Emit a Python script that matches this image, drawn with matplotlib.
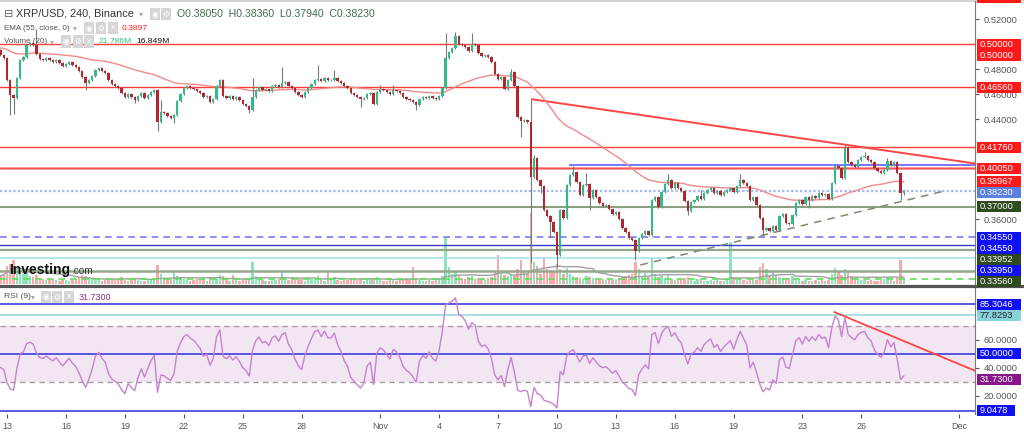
import numpy as np
import pandas as pd
import matplotlib
matplotlib.use('Agg')
import matplotlib.pyplot as plt
from matplotlib.lines import Line2D
from matplotlib.patches import Rectangle

plt.rcParams['font.family'] = ['Liberation Sans', 'DejaVu Sans']

# ---------------- data (XRP/USD 4h, Binance) ----------------
first_open = 0.4950
closes = [
    0.4912, 0.4888,
    0.4712, 0.4592, 0.4568, 0.4728, 0.4872, 0.4896,
    0.4992, 0.5008, 0.4992, 0.4920, 0.4880, 0.4872,
    0.4888, 0.4872, 0.4856, 0.4872, 0.4848, 0.4824,
    0.4840, 0.4856, 0.4832, 0.4816, 0.4784, 0.4736,
    0.4688, 0.4712, 0.4744, 0.4792, 0.4808, 0.4784,
    0.4768, 0.4712, 0.4680, 0.4664, 0.4648, 0.4608,
    0.4576, 0.4600, 0.4576, 0.4552, 0.4584, 0.4608,
    0.4568, 0.4592, 0.4616, 0.4632, 0.4376, 0.4456,
    0.4448, 0.4424, 0.4408, 0.4432, 0.4544, 0.4600,
    0.4648, 0.4664, 0.4648, 0.4640, 0.4624, 0.4608,
    0.4576, 0.4584, 0.4536, 0.4560, 0.4664, 0.4712,
    0.4584, 0.4568, 0.4584, 0.4560, 0.4576, 0.4552,
    0.4520, 0.4504, 0.4472, 0.4576, 0.4632, 0.4656,
    0.4632, 0.4640, 0.4624, 0.4664, 0.4672, 0.4656,
    0.4688, 0.4696, 0.4664, 0.4648, 0.4616, 0.4592,
    0.4576, 0.4616, 0.4648, 0.4680, 0.4712, 0.4720,
    0.4704, 0.4728, 0.4712, 0.4712, 0.4728, 0.4704,
    0.4688, 0.4664, 0.4648, 0.4608, 0.4592, 0.4576,
    0.4560, 0.4568, 0.4600, 0.4608, 0.4520, 0.4616,
    0.4640, 0.4632, 0.4616, 0.4600, 0.4632, 0.4624,
    0.4608, 0.4576, 0.4560, 0.4552, 0.4536, 0.4512,
    0.4560, 0.4576, 0.4568, 0.4584, 0.4568, 0.4560,
    0.4584, 0.4648, 0.4888, 0.4936, 0.4968, 0.5064,
    0.5000, 0.4992, 0.4976, 0.4944, 0.5000, 0.4992,
    0.4928, 0.4904, 0.4912, 0.4896, 0.4856, 0.4760,
    0.4720, 0.4736, 0.4640, 0.4712, 0.4776, 0.4664,
    0.4416, 0.4384, 0.4392, 0.4376, 0.3936, 0.4088,
    0.3912, 0.3864, 0.3672, 0.3624, 0.3576, 0.3496,
    0.3312, 0.3672, 0.3608, 0.3872, 0.3952, 0.3976,
    0.3896, 0.3792, 0.3872, 0.3880, 0.3768, 0.3832,
    0.3776, 0.3728, 0.3704, 0.3712, 0.3680, 0.3640,
    0.3656, 0.3600, 0.3528, 0.3496, 0.3448, 0.3432,
    0.3344, 0.3448, 0.3480, 0.3504, 0.3472, 0.3752,
    0.3776, 0.3696, 0.3816, 0.3880, 0.3912, 0.3848,
    0.3888, 0.3848, 0.3824, 0.3744, 0.3664, 0.3736,
    0.3752, 0.3784, 0.3760, 0.3808, 0.3832, 0.3848,
    0.3808, 0.3824, 0.3792, 0.3816, 0.3832, 0.3848,
    0.3816, 0.3864, 0.3912, 0.3888, 0.3864, 0.3752,
    0.3776, 0.3712, 0.3608, 0.3512, 0.3528, 0.3504,
    0.3544, 0.3512, 0.3624, 0.3640, 0.3568, 0.3560,
    0.3632, 0.3728, 0.3752, 0.3720, 0.3776, 0.3752,
    0.3784, 0.3768, 0.3808, 0.3792, 0.3800, 0.3760,
    0.3888, 0.4024, 0.4008, 0.3928, 0.4168, 0.4056,
    0.4032, 0.4016, 0.4072, 0.4096, 0.4104, 0.4072,
    0.4056, 0.4008, 0.3984, 0.3968, 0.3992, 0.4064,
    0.4032, 0.4056, 0.3968, 0.3805, 0.3823,
]
high_wicks = {11: 0.5112, 49: 0.4552, 67: 0.4720, 77: 0.4728, 86: 0.4816,
              97: 0.4832, 102: 0.4792, 116: 0.4672, 120: 0.4672, 136: 0.5088,
              139: 0.5096, 144: 0.5088, 156: 0.4800, 162: 0.4558, 163: 0.4112,
              175: 0.4024, 179: 0.3968, 204: 0.3960, 214: 0.3832, 223: 0.3856,
              226: 0.3960, 258: 0.4192, 259: 0.4184, 264: 0.4136, 271: 0.4088,
              276: 0.3836}
low_wicks = {3: 0.4432, 4: 0.4440, 26: 0.4632, 41: 0.4528, 48: 0.4304,
             53: 0.4368, 76: 0.4448, 110: 0.4496, 127: 0.4472, 159: 0.4256,
             162: 0.3250, 165: 0.3808, 168: 0.3448, 170: 0.3216, 180: 0.3672,
             194: 0.3272, 210: 0.3632, 233: 0.3472, 247: 0.3688, 275: 0.3752,
             276: 0.3794}
volumes = [  # millions
    25, 30, 55, 60, 72, 45, 40, 30, 36, 24, 20, 28,
    18, 15, 12, 14, 16, 12, 10, 14, 12, 10, 12, 15,
    20, 27, 24, 18, 15, 12, 14, 10, 12, 15, 18, 14,
    16, 20, 12, 10, 14, 18, 12, 10, 9, 12, 15, 18,
    57, 30, 18, 15, 14, 36, 24, 18, 15, 12, 10, 12,
    14, 12, 15, 10, 18, 12, 15, 27, 24, 12, 10, 27,
    12, 10, 14, 15, 18, 66, 24, 18, 12, 10, 9, 15,
    12, 14, 39, 15, 12, 18, 12, 15, 14, 10, 12, 15,
    18, 24, 12, 10, 33, 15, 21, 12, 10, 14, 12, 15,
    18, 12, 15, 10, 12, 14, 18, 21, 12, 10, 9, 12,
    15, 10, 12, 14, 18, 12, 51, 15, 12, 10, 9, 12,
    10, 14, 18, 24, 141, 51, 30, 39, 24, 18, 15, 21,
    24, 15, 18, 14, 12, 18, 21, 36, 87, 30, 27, 24,
    30, 24, 45, 72, 39, 30, 213, 66, 54, 30, 81, 45,
    42, 36, 60, 45, 30, 48, 30, 24, 21, 18, 15, 24,
    21, 18, 15, 12, 14, 12, 15, 12, 15, 18, 21, 24,
    27, 30, 66, 45, 24, 33, 21, 78, 30, 21, 24, 18,
    27, 15, 12, 14, 12, 18, 21, 12, 10, 15, 12, 10,
    9, 12, 10, 12, 9, 10, 12, 126, 18, 12, 15, 12,
    10, 18, 15, 12, 51, 63, 45, 24, 36, 27, 21, 18,
    15, 18, 24, 15, 12, 10, 12, 9, 10, 12, 10, 12,
    9, 12, 30, 48, 36, 27, 45, 36, 24, 18, 15, 12,
    12, 10, 12, 9, 10, 12, 15, 21, 12, 10, 18, 72,
    16.849,
]
ema_seed = 0.4970
rsi_seed_gain, rsi_seed_loss = 0.0030, 0.0045

bar_start = '2022-10-12 16:00'
missing_start, missing_count = '2022-11-21 04:00', 3
tick_dates = ['2022-10-13', '2022-10-16', '2022-10-19', '2022-10-22', '2022-10-25',
              '2022-10-28', '2022-11-01', '2022-11-04', '2022-11-07', '2022-11-10',
              '2022-11-13', '2022-11-16', '2022-11-19', '2022-11-23', '2022-11-26',
              '2022-12-01']
tick_labels = ['13', '16', '19', '22', '25', '28', 'Nov', '4', '7', '10', '13', '16',
               '19', '23', '26', 'Dec']
price_ticks = [0.36, 0.44, 0.46, 0.48, 0.52]
rsi_ticks = [20, 40, 60]

red_levels = [0.5000, 0.4656, 0.4176]
level_04005 = 0.4005
blue_seg_level, blue_seg_start = 0.4035, 174
dotted_level = 0.3823
support_level = 0.3700
low_levels = [0.3455, 0.3395, 0.3356, 0.3286, 0.3188, 0.3124]
down_trend = [(162.4, 0.4558), (258.0, 0.4195)]
up_trend = [(195.5, 0.3232), (288.7, 0.3826)]
rsi_trend = [(254.8, 79.6), (296.4, 39.0)]
rsi_levels = [85.3046, 77.8293, 50.0, 9.0478]

top_marker = 0.5376   # red price marker above the visible range (only its edge shows)
price_labels = [
    (0.5000, '0.50000', '#ff1a1a', 'white'),
    (0.5000, '0.50000', '#ff1a1a', 'white'),
    (0.4656, '0.46560', '#ff1a1a', 'white'),
    (0.4176, '0.41760', '#ff1a1a', 'white'),
    (0.4005, '0.40050', '#ff1a1a', 'white'),
    (0.38967, '0.38967', '#ff1a1a', 'white'),
    (0.3823, '0.38230', '#5b82e0', 'white'),
    (0.3700, '0.37000', '#2e4a1e', 'white'),
    (0.3455, '0.34550', '#1010f5', 'white'),
    (0.3455, '0.34550', '#1010f5', 'white'),
    (0.33952, '0.33952', '#2e4a1e', 'white'),
    (0.3395, '0.33950', '#1010f5', 'white'),
    (0.3356, '0.33560', '#2e4a1e', 'white'),
]
rsi_labels = [
    (85.3046, '85.3046', '#1010f5', 'white'),
    (77.8293, '77.8293', '#86d3dc', '#222222'),
    (50.0, '50.0000', '#1010f5', 'white'),
    (31.73, '31.7300', '#86168a', 'white'),
    (9.0478, '9.0478', '#1010f5', 'white'),
]

# ---------------- derived ----------------
c = np.array(closes, dtype=float)
n = len(c)
x = np.arange(n)
o = np.r_[first_open, c[:-1]]
wick_pad = 0.0009
hi = np.maximum(o, c) + wick_pad
lo = np.minimum(o, c) - wick_pad
for k, v in high_wicks.items():
    hi[k] = v
for k, v in low_wicks.items():
    lo[k] = v
up = c >= o

ema = np.empty(n)
a = 2 / 56
prev = ema_seed
for i in range(n):
    prev = a * c[i] + (1 - a) * prev
    ema[i] = prev

rsi = np.empty(n)
g, l = rsi_seed_gain, rsi_seed_loss
rsi[0] = 100 - 100 / (1 + g / l)
for i in range(1, n):
    d = c[i] - c[i - 1]
    g = (g * 8 + max(d, 0)) / 9
    l = (l * 8 + max(-d, 0)) / 9
    rsi[i] = 100 - 100 / (1 + g / l)

vol = np.array(volumes, dtype=float)
vol_ma = pd.Series(vol).rolling(20, min_periods=1).mean().values

full = pd.date_range(bar_start, '2022-12-03', freq='4h')
full = full.drop(pd.date_range(missing_start, periods=missing_count, freq='4h'))
tick_pos = full.searchsorted(pd.to_datetime(tick_dates))

# ---------------- figure ----------------
W, H = 1024, 432
fig = plt.figure(figsize=(W / 100, H / 100), dpi=100)
fig.patch.set_facecolor('white')


def rect(x0, y0, x1, y1):
    return [x0 / W, 1 - y1 / H, (x1 - x0) / W, (y1 - y0) / H]


def px(xp, yp):
    return xp / W, 1 - yp / H


XL = (-0.15, 297.75)
ax = fig.add_axes(rect(0, 1, 975, 284))
axv = ax.twinx()
axr = fig.add_axes(rect(0, 287, 975, 414))

ax.set_zorder(2)
axv.set_zorder(1)
ax.patch.set_visible(False)

ax.set_xlim(*XL)
ax.set_ylim(0.308, 0.5344)
axv.set_ylim(0, 849)
axv.axis('off')

# volume
vcol = np.where(up, '#8ae4b8', '#f6a9a9')
axv.bar(x, vol, width=0.72, color=vcol, linewidth=0)
axv.plot(x, vol_ma, color='#a0a0a0', lw=1.0)

# levels
for v in red_levels:
    ax.axhline(v, color='#ff3b3b', lw=1.0, zorder=1)
ax.axhline(level_04005, color='#ff8c8c', lw=2.0, zorder=1)
ax.axhline(level_04005, color='#ff4a4a', lw=0.6, zorder=1)
ax.plot([blue_seg_start, XL[1]], [blue_seg_level] * 2, color='#7676ff', lw=1.4, zorder=1)
ax.axhline(dotted_level, color='#a3b5f2', lw=1.6, ls=(0, (1, 1)), zorder=1)
ax.axhline(support_level, color='#8c9e80', lw=1.5, zorder=1)
low_styles = [('#7a7af5', 1.2, (0, (4, 3))), ('#3838d0', 1.0, '-'), ('#97a78c', 1.6, '-'),
              ('#a6e2ea', 1.2, '-'), ('#97a78c', 1.8, '-'), ('#5fe05f', 1.2, (0, (4, 3)))]
for v, (col, lw, ls) in zip(low_levels, low_styles):
    ax.axhline(v, color=col, lw=lw, ls=ls, zorder=1)

# trendlines
(x1, y1), (x2, y2) = down_trend
slope = (y2 - y1) / (x2 - x1)
ax.plot([x1, XL[1]], [y1, y1 + slope * (XL[1] - x1)], color='#ff4545', lw=1.4, zorder=3)
(x1, y1), (x2, y2) = up_trend
ax.plot([x1, x2], [y1, y2], color='#788a70', lw=1.1, ls=(0, (5, 4)), zorder=3)

# EMA
ax.plot(x, ema, color='#f28a8a', lw=1.0, zorder=3)

# candles
ccol = np.where(up, '#33b98e', '#b3262d')
ax.vlines(x, lo, hi, color='#6f7f70', lw=0.8, zorder=4)
body_lo = np.minimum(o, c)
body_h = np.maximum(np.abs(c - o), 0.0003)
ax.bar(x, body_h, bottom=body_lo, width=0.72, color=ccol, linewidth=0, zorder=5)

# axes styling (price)
for s in ['left', 'top', 'bottom']:
    ax.spines[s].set_visible(False)
ax.spines['right'].set_color('#7a7a7a')
ax.set_xticks([])
ax.yaxis.tick_right()
ax.set_yticks(price_ticks)
ax.set_yticklabels(['%.5f' % t for t in price_ticks])
ax.tick_params(axis='y', labelsize=6.7, colors='#555555', length=3, pad=3, width=0.8)

# RSI panel
axr.set_xlim(*XL)
axr.set_ylim(6.8, 97.5)
axr.axhspan(30, 70, color='#f2e6f2', lw=0, zorder=0)
axr.axhline(70, color='#a89ca8', lw=1.0, ls=(0, (4, 3)), zorder=1)
axr.axhline(30, color='#a89ca8', lw=1.0, ls=(0, (4, 3)), zorder=1)
rsi_cols = ['#3d3ddb', '#9ad8dc', '#3d3ddb', '#3d3ddb']
for v, col in zip(rsi_levels, rsi_cols):
    axr.axhline(v, color=col, lw=1.2, zorder=1)
axr.plot(x, rsi, color='#c682d0', lw=1.0, zorder=3)
(x1, y1), (x2, y2) = rsi_trend
slope = (y2 - y1) / (x2 - x1)
axr.plot([x1, XL[1]], [y1, y1 + slope * (XL[1] - x1)], color='#ff4545', lw=1.3, zorder=4)
for s in ['left', 'top', 'bottom']:
    axr.spines[s].set_visible(False)
axr.spines['right'].set_color('#7a7a7a')
axr.yaxis.tick_right()
axr.set_yticks(rsi_ticks)
axr.set_yticklabels(['%.4f' % t for t in rsi_ticks])
axr.tick_params(axis='y', labelsize=6.7, colors='#555555', length=3, pad=3, width=0.8)
axr.set_xticks(tick_pos)
axr.set_xticklabels(tick_labels)
axr.tick_params(axis='x', labelsize=6.5, colors='#555555', length=3, pad=3, width=0.8)

# separators
fig.add_artist(Line2D([0, 1], [1 - 285.5 / H] * 2, transform=fig.transFigure,
                      color='#555555', lw=2.3))
fig.add_artist(Line2D([0, 1], [1 - 0.5 / H] * 2, transform=fig.transFigure,
                      color='#d4d4d4', lw=1.5))
fig.canvas.draw()

BOX_H = 11.0


def box(yd, width, fc):
    fig.add_artist(Rectangle((977 / W, (yd - BOX_H / 2) / H), width / W, BOX_H / H,
                             transform=fig.transFigure, fc=fc, ec='none', zorder=9))


def place_labels(axis, items):
    order = sorted(range(len(items)), key=lambda k: -items[k][0])
    prev = None
    for k in order:
        v, txt, fc, tc = items[k]
        yd = axis.transData.transform((0, v))[1]
        if prev is not None and prev - yd < BOX_H:
            yd = prev - BOX_H
        prev = yd
        box(yd, 6.3 * len(txt), fc)
        fig.text(980 / W, yd / H, txt, fontsize=6.7, color=tc, ha='left', va='center',
                 zorder=10)


box(ax.transData.transform((0, top_marker))[1], 44, '#ff1a1a')
place_labels(ax, price_labels)
place_labels(axr, rsi_labels)


# legend texts
def icon(xp, yp, glyph):
    fig.text(*px(xp, yp), glyph, fontsize=5.5, color='white', ha='center', va='center',
             family=['DejaVu Sans'],
             bbox=dict(boxstyle='square,pad=0.25', fc='#d6d6d6', ec='none'), zorder=10)


fig.text(*px(4, 14), '⊟', fontsize=8, color='#666666', va='center', family=['DejaVu Sans'])
fig.text(*px(16, 14), 'XRP/USD, 240, Binance', fontsize=7.8, color='#333333', va='center')
fig.text(*px(139, 14), '▾', fontsize=6, color='#aaaaaa', va='center', family=['DejaVu Sans'])
icon(155, 14, '◉')
icon(166, 14, '⚙')
fig.text(*px(177, 14), 'O0.38050  H0.38360  L0.37940  C0.38230', fontsize=7.6,
         color='#3f6f4a', va='center')

fig.text(*px(4, 28), 'EMA (55, close, 0)', fontsize=5.8, color='#555555', va='center')
fig.text(*px(73, 28), '▾', fontsize=5.5, color='#aaaaaa', va='center', family=['DejaVu Sans'])
icon(89, 28, '◉')
icon(101, 28, '⚙')
icon(113, 28, '×')
fig.text(*px(122, 28), '0.3897', fontsize=6.1, color='#ff2020', va='center')

fig.text(*px(4, 41.5), 'Volume (20)', fontsize=5.8, color='#555555', va='center')
fig.text(*px(50, 41.5), '▾', fontsize=5.5, color='#aaaaaa', va='center', family=['DejaVu Sans'])
icon(66, 41.5, '◉')
icon(78, 41.5, '⚙')
icon(89, 41.5, '×')
fig.text(*px(99, 41.5), '21.786M', fontsize=6.1, color='#2ec27e', va='center')
fig.text(*px(136, 41.5), '16.849M', fontsize=6.1, color='#111111', va='center')

fig.text(*px(4, 297), 'RSI (9)', fontsize=6.1, color='#555555', va='center')
fig.text(*px(31, 297), '▾', fontsize=5.5, color='#aaaaaa', va='center', family=['DejaVu Sans'])
icon(46, 297, '◉')
icon(57, 297, '⚙')
icon(69, 297, '×')
fig.text(*px(79, 297), '31.7300', fontsize=6.4, color='#8e2a96', va='center')

# watermark
fig.text(*px(9, 274), 'Investing', fontsize=10, fontweight='bold', color='#111111',
         va='baseline', zorder=10)
fig.text(*px(71, 274), '.com', fontsize=7.2, color='#333333', va='baseline', zorder=10)

fig.savefig('out.png', dpi=100, facecolor='white')
